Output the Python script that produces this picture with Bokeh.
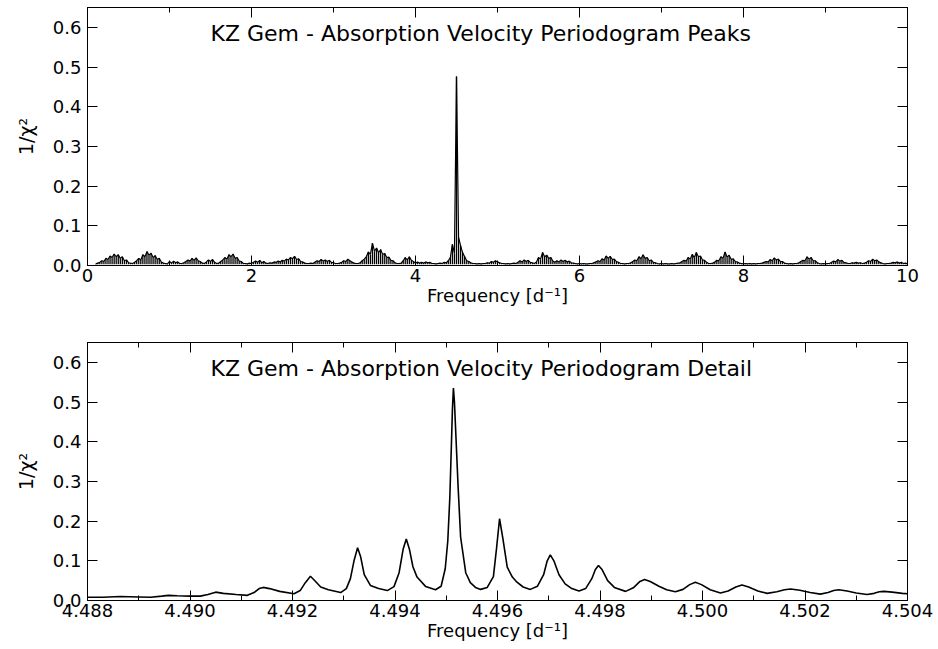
import numpy as np
from bokeh.plotting import figure
from bokeh.layouts import column
from bokeh.models import (Range1d, FixedTicker, PrintfTickFormatter, LinearAxis,
                          Label, ColumnDataSource, CustomJSTickFormatter)
from bokeh.embed import file_html
from bokeh.resources import INLINE

FONT = "DejaVu Sans"

# ---------------- data: top panel (periodogram peaks, sampled every 0.025 d^-1 from 0.1) -------------
peak_freq_start = 0.1
peak_freq_step = 0.025
peak_power = [
    0.004, 0.006, 0.008, 0.012, 0.010, 0.018, 0.015, 0.024, 0.020, 0.029, 0.022, 0.027, 0.018, 0.022, 0.012, 0.014, 0.007, 0.006, 0.005, 0.008,
    0.012, 0.018, 0.014, 0.027, 0.022, 0.035, 0.026, 0.031, 0.020, 0.025, 0.015, 0.018, 0.009, 0.006, 0.005, 0.004, 0.010, 0.006, 0.011, 0.007,
    0.009, 0.005, 0.005, 0.007, 0.010, 0.014, 0.011, 0.018, 0.013, 0.019, 0.012, 0.010, 0.006, 0.005, 0.009, 0.014, 0.010, 0.015, 0.008, 0.005,
    0.006, 0.010, 0.014, 0.020, 0.016, 0.027, 0.022, 0.029, 0.018, 0.020, 0.011, 0.010, 0.005, 0.005, 0.004, 0.006, 0.005, 0.008, 0.011, 0.008,
    0.013, 0.007, 0.010, 0.006, 0.005, 0.007, 0.006, 0.009, 0.008, 0.011, 0.009, 0.013, 0.011, 0.016, 0.014, 0.020, 0.017, 0.023, 0.015, 0.017,
    0.010, 0.009, 0.006, 0.005, 0.005, 0.006, 0.005, 0.009, 0.012, 0.010, 0.015, 0.011, 0.014, 0.010, 0.013, 0.008, 0.007, 0.005, 0.005, 0.006,
    0.008, 0.012, 0.010, 0.016, 0.012, 0.009, 0.006, 0.005, 0.005, 0.007, 0.012, 0.016, 0.022, 0.034, 0.028, 0.056, 0.036, 0.044, 0.032, 0.040,
    0.028, 0.030, 0.020, 0.021, 0.013, 0.012, 0.007, 0.005, 0.005, 0.006, 0.012, 0.020, 0.014, 0.022, 0.013, 0.010, 0.006, 0.009, 0.006, 0.008,
    0.006, 0.009, 0.007, 0.008, 0.005, 0.005, 0.004, 0.005, 0.006, 0.005, 0.008, 0.007, 0.012, 0.020, 0.053, 0.030, 0.476, 0.071, 0.050, 0.032,
    0.022, 0.012, 0.010, 0.007, 0.005, 0.005, 0.004, 0.005, 0.004, 0.005, 0.005, 0.007, 0.006, 0.010, 0.008, 0.012, 0.009, 0.007, 0.005, 0.005,
    0.004, 0.005, 0.004, 0.005, 0.006, 0.005, 0.008, 0.012, 0.009, 0.014, 0.010, 0.013, 0.008, 0.007, 0.005, 0.009, 0.020, 0.016, 0.033, 0.022,
    0.026, 0.018, 0.020, 0.011, 0.008, 0.012, 0.009, 0.014, 0.010, 0.013, 0.009, 0.011, 0.007, 0.006, 0.005, 0.004, 0.005, 0.004, 0.005, 0.004,
    0.004, 0.005, 0.005, 0.007, 0.009, 0.012, 0.010, 0.017, 0.014, 0.024, 0.018, 0.023, 0.015, 0.016, 0.010, 0.008, 0.005, 0.005, 0.004, 0.005,
    0.005, 0.007, 0.010, 0.014, 0.012, 0.022, 0.017, 0.027, 0.018, 0.020, 0.012, 0.014, 0.008, 0.007, 0.005, 0.004, 0.005, 0.004, 0.005, 0.004,
    0.004, 0.005, 0.004, 0.005, 0.006, 0.007, 0.010, 0.013, 0.011, 0.020, 0.016, 0.028, 0.020, 0.033, 0.022, 0.024, 0.014, 0.013, 0.008, 0.005,
    0.005, 0.006, 0.009, 0.013, 0.012, 0.022, 0.018, 0.034, 0.021, 0.026, 0.015, 0.017, 0.010, 0.009, 0.006, 0.005, 0.004, 0.005, 0.004, 0.005,
    0.004, 0.005, 0.004, 0.005, 0.005, 0.006, 0.008, 0.010, 0.009, 0.015, 0.012, 0.019, 0.014, 0.016, 0.010, 0.010, 0.006, 0.005, 0.004, 0.005,
    0.004, 0.005, 0.005, 0.007, 0.010, 0.013, 0.012, 0.022, 0.016, 0.020, 0.012, 0.012, 0.007, 0.005, 0.004, 0.005, 0.004, 0.005, 0.005, 0.008,
    0.011, 0.009, 0.015, 0.011, 0.013, 0.008, 0.007, 0.005, 0.005, 0.007, 0.006, 0.008, 0.006, 0.007, 0.005, 0.006, 0.008, 0.012, 0.010, 0.016,
    0.012, 0.014, 0.009, 0.007, 0.005, 0.004, 0.005, 0.005, 0.006, 0.008, 0.007, 0.009, 0.006, 0.008, 0.005, 0.006, 0.004,
]
peak_freq = np.round(peak_freq_start + peak_freq_step * np.arange(len(peak_power)), 4)
peak_floor = 0.003

# ---------------- data: bottom panel (detail around the main peak) ----------------
detail_freq = [
    4.48800, 4.48830, 4.48864, 4.48900, 4.48923, 4.48945, 4.48958, 4.48975, 4.49000, 4.49020,
    4.49035, 4.49050, 4.49065, 4.49090, 4.49112, 4.49125, 4.49135, 4.49143, 4.49155, 4.49175,
    4.49203, 4.49215, 4.49225, 4.49235, 4.49245, 4.49255, 4.49270, 4.49294,
    4.49305, 4.49313, 4.49320, 4.49327, 4.49333, 4.49340, 4.49352, 4.49368, 4.49385,
    4.49398, 4.49408, 4.49416, 4.49422, 4.49428, 4.49435, 4.49443, 4.49460, 4.49479,
    4.49490, 4.49498, 4.49503, 4.49507, 4.49510, 4.49512, 4.49514, 4.49516, 4.49519, 4.49523,
    4.49528, 4.49538, 4.49547, 4.49557, 4.49567,
    4.49580, 4.49592, 4.49598, 4.49604, 4.49610, 4.49619, 4.49629, 4.49638, 4.49650, 4.49664,
    4.49678, 4.49690, 4.49697, 4.49703, 4.49710, 4.49720, 4.49732, 4.49745, 4.49759,
    4.49772, 4.49784, 4.49791, 4.49797, 4.49804, 4.49815, 4.49828, 4.49850,
    4.49865, 4.49878, 4.49887, 4.49898, 4.49915, 4.49930, 4.49947,
    4.49962, 4.49975, 4.49986, 4.49998, 4.50015, 4.50035,
    4.50050, 4.50065, 4.50077, 4.50090, 4.50108, 4.50126,
    4.50145, 4.50160, 4.50172, 4.50190, 4.50210, 4.50230,
    4.50245, 4.50256, 4.50266, 4.50282, 4.50300, 4.50321,
    4.50335, 4.50345, 4.50354, 4.50370, 4.50390, 4.50400,
]
detail_power = [
    0.008, 0.008, 0.010, 0.009, 0.008, 0.011, 0.013, 0.012, 0.011, 0.011,
    0.015, 0.021, 0.018, 0.015, 0.013, 0.020, 0.030, 0.033, 0.030, 0.023,
    0.017, 0.025, 0.045, 0.061, 0.048, 0.034, 0.027, 0.020,
    0.030, 0.055, 0.100, 0.133, 0.110, 0.065, 0.038, 0.030, 0.025,
    0.035, 0.070, 0.130, 0.155, 0.130, 0.085, 0.059, 0.035, 0.027,
    0.036, 0.080, 0.150, 0.260, 0.390, 0.480, 0.535, 0.500, 0.410, 0.290,
    0.160, 0.070, 0.045, 0.033, 0.028,
    0.033, 0.060, 0.130, 0.206, 0.160, 0.084, 0.059, 0.046, 0.034, 0.028,
    0.036, 0.065, 0.100, 0.115, 0.100, 0.065, 0.042, 0.030, 0.024,
    0.030, 0.055, 0.078, 0.088, 0.078, 0.050, 0.033, 0.023,
    0.032, 0.048, 0.053, 0.048, 0.036, 0.027, 0.022,
    0.028, 0.040, 0.046, 0.040, 0.027, 0.019,
    0.024, 0.034, 0.039, 0.034, 0.024, 0.018,
    0.022, 0.027, 0.029, 0.026, 0.020, 0.016,
    0.020, 0.025, 0.027, 0.024, 0.019, 0.015,
    0.018, 0.022, 0.023, 0.021, 0.018, 0.017,
]

# axis ticks / labels
y_ticks = [0.0, 0.1, 0.2, 0.3, 0.4, 0.5, 0.6]
top_x_ticks = [0, 2, 4, 6, 8, 10]
top_x_minor = [0, 1, 2, 3, 4, 5, 6, 7, 8, 9, 10]
bot_x_ticks = [4.488, 4.490, 4.492, 4.494, 4.496, 4.498, 4.500, 4.502, 4.504]
bot_x_minor = [4.488, 4.489, 4.490, 4.491, 4.492, 4.493, 4.494, 4.495, 4.496,
               4.497, 4.498, 4.499, 4.500, 4.501, 4.502, 4.503, 4.504]
title_top = "KZ Gem - Absorption Velocity Periodogram Peaks"
title_bot = "KZ Gem - Absorption Velocity Periodogram Detail"
x_label = "Frequency [d\u207b\u00b9]"
y_label = "1/\u03c7\u00b2"

TICK_FS = "18px"
TITLE_FS = "22px"


def style_axis(ax, show_labels):
    ax.axis_line_color = "black"
    ax.axis_line_width = 1
    ax.major_tick_line_color = "black"
    ax.minor_tick_line_color = "black"
    ax.major_tick_in = 10
    ax.major_tick_out = 0
    ax.minor_tick_in = 5
    ax.minor_tick_out = 0
    ax.major_label_text_font = FONT
    ax.major_label_text_color = "black"
    ax.axis_label_text_font = FONT
    ax.axis_label_text_font_style = "normal"
    ax.axis_label_text_font_size = TICK_FS
    ax.axis_label_text_color = "black"
    if show_labels:
        ax.major_label_text_font_size = TICK_FS
    else:
        ax.major_label_text_font_size = "1px"
        ax.formatter = CustomJSTickFormatter(code="return ''")
        ax.major_label_standoff = 0


def make_panel(xr, xticks, xminor, xfmt, title, top_border, bottom_border):
    p = figure(frame_width=820, frame_height=258, x_range=xr, y_range=Range1d(0, 0.65),
               output_backend="svg", toolbar_location=None, title=None,
               min_border_left=87, min_border_right=28, min_border_top=top_border,
               min_border_bottom=bottom_border, background_fill_color="white",
               border_fill_color="white")
    p.grid.visible = False
    p.outline_line_color = "black"
    p.outline_line_width = 1

    xt = FixedTicker(ticks=xticks, minor_ticks=xminor)
    yt = FixedTicker(ticks=y_ticks, minor_ticks=[])

    p.xaxis.ticker = xt
    p.xaxis.formatter = PrintfTickFormatter(format=xfmt)
    p.xaxis.axis_label = x_label
    p.xaxis.major_label_standoff = 3
    p.xaxis.axis_label_standoff = 0
    style_axis(p.xaxis[0], True)

    p.yaxis.ticker = yt
    p.yaxis.formatter = PrintfTickFormatter(format="%.1f")
    p.yaxis.axis_label = y_label
    p.yaxis.major_label_standoff = 6
    p.yaxis.axis_label_standoff = 13
    style_axis(p.yaxis[0], True)
    p.yaxis.minor_tick_in = 0
    p.yaxis.axis_label_text_font_size = "19px"

    top_ax = LinearAxis(ticker=FixedTicker(ticks=xticks, minor_ticks=xminor))
    style_axis(top_ax, False)
    p.add_layout(top_ax, "above")
    right_ax = LinearAxis(ticker=FixedTicker(ticks=y_ticks, minor_ticks=[]))
    style_axis(right_ax, False)
    right_ax.minor_tick_in = 0
    p.add_layout(right_ax, "right")

    xs, xe = xr.start, xr.end
    p.add_layout(Label(x=xs + 0.15 * (xe - xs), y=0.584, x_units="data", y_units="data",
                       text=title, text_font=FONT, text_font_size=TITLE_FS,
                       text_color="black", text_align="left", text_baseline="alphabetic"))
    return p


p1 = make_panel(Range1d(0, 10), top_x_ticks, top_x_minor, "%d", title_top, 7, 77)
src1 = ColumnDataSource(dict(f=peak_freq, p=peak_power, f0=[peak_floor] * len(peak_power)))
p1.segment(x0="f", y0="f0", x1="f", y1="p", source=src1, line_color="black", line_width=1.3)
p1.line(x="f", y="p", source=src1, line_color="black", line_width=1.2)

p2 = make_panel(Range1d(4.488, 4.504), bot_x_ticks, bot_x_minor, "%.3f", title_bot, 0, 40)
p2.line(detail_freq, detail_power, line_color="black", line_width=1.6)

layout = column(p1, p2, spacing=0)
open("out.html", "w").write(file_html(layout, INLINE))
